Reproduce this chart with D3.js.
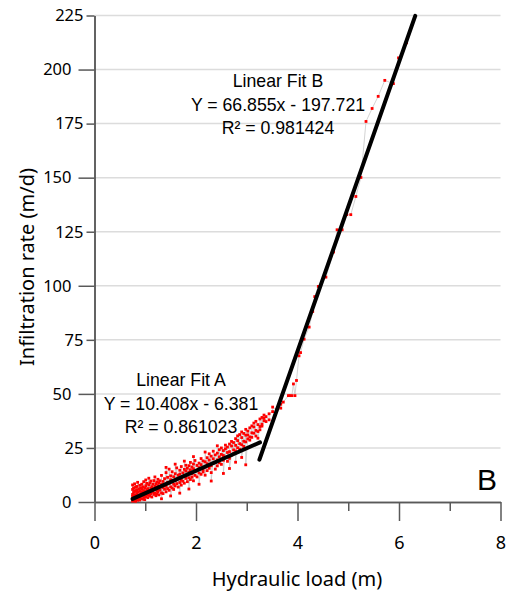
<!DOCTYPE html>
<html>
<head>
<meta charset="utf-8">
<script src="https://cdn.jsdelivr.net/npm/d3@7"></script>
<style>
	body { margin: 0; background: #fff; }
	svg { display: block; }
	.tick text { font-family: "Noto Sans", sans-serif; fill: #000; }
	.axis-title { font-family: "Noto Sans", sans-serif; font-size: 20px; fill: #000; }
	.fit-label { font-family: "Liberation Sans", Arial, sans-serif; font-size: 17.7px; fill: #000; }
</style>
</head>
<body>
<div id="chart"></div>
<script>
// hydraulic load steps (m) and the infiltration rates (m/d) read at each step
const loadSteps = [
	0.75, 0.77, 0.79, 0.81, 0.83, 0.85, 0.87, 0.89, 0.91, 0.93, 0.95, 0.97, 0.99,
	1.01, 1.03, 1.05, 1.07, 1.09, 1.11, 1.13, 1.15, 1.17, 1.19, 1.21, 1.23, 1.25, 1.27, 1.29,
	1.32, 1.35, 1.38, 1.41, 1.44, 1.47, 1.50, 1.53, 1.56, 1.59, 1.62, 1.65, 1.68, 1.71, 1.74,
	1.77, 1.80, 1.83, 1.86, 1.89, 1.92, 1.95, 1.98,
	2.02, 2.06, 2.10, 2.14, 2.18, 2.22, 2.26, 2.30, 2.34, 2.38, 2.42, 2.46, 2.50, 2.54, 2.58,
	2.62, 2.66, 2.70, 2.74, 2.78, 2.82, 2.86, 2.90, 2.94, 2.98,
	3.02, 3.06, 3.10, 3.14, 3.18, 3.22, 3.26, 3.30, 3.34, 3.38, 3.44, 3.51, 3.59, 3.67, 3.72,
	3.82, 3.85, 3.89, 3.92, 3.95, 3.98,
	4.03, 4.06, 4.13, 4.23, 4.30, 4.34, 4.41, 4.56, 4.71, 4.78, 4.88, 4.97,
	5.05, 5.15, 5.25, 5.35, 5.47, 5.59, 5.72, 5.89, 5.99, 6.15
];
const rateGroups = [
	[1.2, 3.5, 5.8, 0.4, 2.6, 7.9], [4.4, 1.8, 6.5], [0.6, 3.1, 5.2, 8.4], [2.2, 4.9, 0.3, 6.8],
	[3.7, 1.4, 7.2, 5.5], [2.9, 0.8, 4.6, 9.1], [6.1, 1.9, 3.3], [5.0, 7.7, 2.4, 0.9],
	[3.8, 6.4, 1.6], [4.7, 8.2, 2.8, 5.9], [1.3, 3.6, 7.0], [5.3, 2.1, 9.4, 4.2], [6.6, 3.0, 1.1],
	[4.8, 7.5, 2.5, 10.2], [5.7, 3.4, 8.6], [2.0, 6.2, 4.1], [7.9, 5.0, 3.2, 11.0], [4.5, 8.8, 2.7],
	[6.3, 3.9, 9.7], [5.4, 7.1, 2.3], [8.3, 4.6, 6.0], [3.5, 9.9, 5.8], [7.2, 4.0, 11.6],
	[6.5, 2.9, 8.4], [5.1, 9.2, 3.7], [7.6, 4.8, 10.5], [6.0, 3.3, 8.9], [9.8, 5.5, 7.0],
	[4.2, 8.1, 12.3, 1.5], [6.7, 9.5, 3.9], [10.8, 5.9, 8.0], [7.3, 13.6, 4.7, 16.0], [9.1, 6.2, 11.4],
	[5.4, 8.6, 15.2], [10.3, 7.0, 12.1, 2.8], [6.5, 14.0, 9.3], [11.7, 8.2, 5.8], [13.1, 9.9, 7.4, 17.5],
	[10.6, 15.8, 8.5], [12.4, 6.9, 11.0], [9.0, 14.7, 12.9, 4.1], [16.4, 10.1, 7.8], [11.8, 13.5, 9.6],
	[8.7, 15.1, 12.2, 18.9], [14.3, 10.9, 17.0], [12.6, 9.4, 15.6], [11.2, 16.8, 13.8, 6.0], [14.9, 10.4, 18.3],
	[13.0, 16.2, 11.5], [9.8, 15.4, 17.6, 21.0], [14.1, 12.3, 19.2],
	[16.9, 11.6, 14.6], [13.4, 18.0, 15.9, 8.2], [17.3, 12.8, 20.1], [15.0, 19.0, 13.9], [18.6, 16.1, 12.4, 23.1],
	[14.5, 20.5, 17.7], [19.4, 15.6, 22.3], [16.8, 21.2, 13.6, 9.7], [20.0, 17.9, 23.5], [18.3, 15.2, 21.8],
	[22.6, 19.5, 16.7, 26.0], [20.9, 24.2, 18.1], [17.4, 22.0, 25.0], [21.5, 19.3, 23.8, 13.2], [24.6, 20.7, 26.3],
	[22.9, 18.8, 25.4], [26.8, 23.3, 20.2, 15.5], [21.7, 25.9, 28.0], [24.1, 27.5, 22.4], [26.2, 29.3, 23.6, 18.4],
	[28.4, 25.1, 30.6], [27.0, 24.4, 31.2], [29.8, 26.5, 32.4, 20.6], [28.1, 31.7, 25.7], [30.9, 27.8, 33.6, 17.2],
	[29.2, 32.8, 31.0], [34.3, 30.1, 28.6], [32.0, 35.2, 29.9], [31.8, 34.7, 36.5], [33.1, 30.5, 37.3],
	[35.8, 32.6, 29.5], [34.9, 38.4, 33.4], [36.0, 39.1, 35.1], [37.6, 40.2, 38.7], [37.2, 39.5],
	[38.0, 40.8], [41.8, 43.9], [42.6], [43.4, 45.2], [46.2],
	[49.2], [49.2], [49.2], [54.6], [49.2], [56.2],
	[67.6], [69.1], [75.3], [80.9], [88.1], [95.0], [99.7], [104.0], [115.6], [125.9], [125.9], [132.9],
	[132.9], [141.3], [150.1], [176.0], [182.0], [187.6], [195.0], [193.5], [205.4], [212.4]
];

// fitted lines: slope, intercept, x range
const fitNames = ['Linear Fit A', 'Linear Fit B'];
const fitSlopes = [10.408, 66.855];
const fitIntercepts = [-6.381, -197.721];
const fitR2 = ['0.861023', '0.981424'];
const fitStart = [0.75, 3.25];
const fitEnd = [3.26, 6.32];

const xMajorTicks = [0, 2, 4, 6, 8];
const xMinorTicks = [1, 3, 5, 7];
const yMajorTicks = [0, 50, 100, 150, 200];
const yMinorTicks = [25, 75, 125, 175, 225];
const yGridTicks = [25, 50, 75, 100, 125, 150, 175, 200, 225];

const width = 509, height = 599;

const svg = d3.select('#chart').append('svg')
	.attr('width', width)
	.attr('height', height);

const x = d3.scaleLinear().domain([0, 8]).range([94.5, 500.5]);
const y = d3.scaleLinear().domain([0, 225]).range([502, 15.5]);

// grid
svg.append('g')
	.selectAll('line')
	.data(yGridTicks)
	.enter()
	.append('line')
	.attr('x1', x(0)).attr('x2', x(8))
	.attr('y1', (d)=>y(d)).attr('y2', (d)=>y(d))
	.attr('stroke', '#dcdcdc')
	.attr('stroke-width', 1.5);

function styleAxis(g) {
	g.selectAll('.domain').attr('stroke', '#595959').attr('stroke-width', 1.5);
	g.selectAll('.tick line').attr('stroke', '#595959').attr('stroke-width', 1.5);
}

// x axis
svg.append('g')
	.attr('transform', `translate(0,${y(0)})`)
	.call(d3.axisBottom(x).tickValues(xMajorTicks).tickSize(19).tickSizeOuter(0).tickPadding(15))
	.call(styleAxis)
	.selectAll('text').style('font-size', '18px');
svg.append('g')
	.attr('transform', `translate(0,${y(0)})`)
	.call(d3.axisBottom(x).tickValues(xMinorTicks).tickSize(9).tickSizeOuter(0).tickFormat(''))
	.call(styleAxis);

// y axis
svg.append('g')
	.attr('transform', `translate(${x(0)},0)`)
	.call(d3.axisLeft(y).tickValues(yMajorTicks).tickSize(16).tickSizeOuter(0).tickPadding(7))
	.call(styleAxis)
	.selectAll('text').style('font-size', '16.5px');
svg.append('g')
	.attr('transform', `translate(${x(0)},0)`)
	.call(d3.axisLeft(y).tickValues(yMinorTicks).tickSize(8).tickSizeOuter(0).tickPadding(3))
	.call(styleAxis)
	.selectAll('text').style('font-size', '16.5px');

// axis titles
svg.append('text')
	.attr('class', 'axis-title')
	.attr('x', 297).attr('y', 586)
	.attr('text-anchor', 'middle')
	.text('Hydraulic load (m)');
svg.append('text')
	.attr('class', 'axis-title')
	.attr('transform', 'translate(34,267) rotate(-90)')
	.attr('text-anchor', 'middle')
	.text('Infiltration rate (m/d)');

// observations
const points = [];
loadSteps.forEach((load, i)=>{
	rateGroups[i].forEach((rate)=>points.push([load, rate]));
});

svg.append('path')
	.datum(points)
	.attr('fill', 'none')
	.attr('stroke', '#c8c8c8')
	.attr('stroke-width', 0.8)
	.attr('d', d3.line().x((d)=>x(d[0])).y((d)=>y(d[1])));

svg.append('g')
	.selectAll('rect')
	.data(points)
	.enter()
	.append('rect')
	.attr('x', (d)=>x(d[0]) - 1.4)
	.attr('y', (d)=>y(d[1]) - 1.4)
	.attr('width', 2.8)
	.attr('height', 2.8)
	.attr('fill', '#ff0000');

// fit lines
svg.append('g')
	.selectAll('line')
	.data(fitSlopes)
	.enter()
	.append('line')
	.attr('x1', (d, i)=>x(fitStart[i]))
	.attr('y1', (d, i)=>y(d * fitStart[i] + fitIntercepts[i]))
	.attr('x2', (d, i)=>x(fitEnd[i]))
	.attr('y2', (d, i)=>y(d * fitEnd[i] + fitIntercepts[i]))
	.attr('stroke', '#000')
	.attr('stroke-width', 4)
	.attr('stroke-linecap', 'round');

// fit annotations
const labelX = [181, 278];
const labelY = [386, 87];
fitNames.forEach((name, i)=>{
	const sign = fitIntercepts[i] < 0 ? '-' : '+';
	const lines = [
		name,
		`Y = ${fitSlopes[i].toFixed(3)}x ${sign} ${Math.abs(fitIntercepts[i]).toFixed(3)}`,
		`R² = ${fitR2[i]}`
	];
	svg.append('g')
		.selectAll('text')
		.data(lines)
		.enter()
		.append('text')
		.attr('class', 'fit-label')
		.attr('x', labelX[i])
		.attr('y', (d, j)=>labelY[i] + j * 23.5)
		.attr('text-anchor', 'middle')
		.text((d)=>d);
});

// panel letter
svg.append('text')
	.attr('x', 497).attr('y', 490)
	.attr('text-anchor', 'end')
	.style('font-family', '"Liberation Sans", Arial, sans-serif')
	.style('font-size', '30px')
	.text('B');
</script>
</body>
</html>
